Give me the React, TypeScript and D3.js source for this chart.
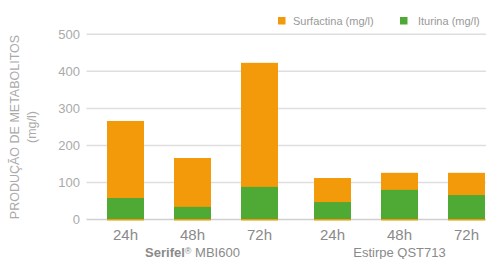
import * as d3 from "d3"

const groups = ["Serifel® MBI600", "Estirpe QST713"]
const times = ["24h", "48h", "72h"]
// values per group, per time
const iturina = [
  [58, 34, 88],
  [47, 80, 66],
]
const surfactina = [
  [208, 132, 335],
  [65, 46, 60],
]
const yTicks = [0, 100, 200, 300, 400, 500]

const W = 486
const H = 259
const ORANGE = "#f39a0b"
const GREEN = "#4ea935"
const FONT = "'Liberation Sans', Arial, sans-serif"

export default function App() {
  const y = d3.scaleLinear().domain([0, 500]).range([219.5, 34.3])
  const xGroup = d3.scaleBand<string>().domain(groups).range([89, 503]).padding(0)
  const xTime = d3
    .scaleBand<string>()
    .domain(times)
    .range([0, xGroup.bandwidth()])
    .paddingInner(0.448)
    .paddingOuter(0.269)

  return (
    <svg
      width={W}
      height={H}
      style={{ position: "absolute", left: 0, top: 0, background: "#fff" }}
      fontFamily={FONT}
    >
      {/* grid */}
      {yTicks.map((t) => (
        <g key={t}>
          <line
            x1={86.5}
            x2={W}
            y1={y(t)}
            y2={y(t)}
            stroke={t === 0 ? "#cfcfcf" : "#dedede"}
            strokeWidth={1.5}
          />
          <text x={80} y={y(t) + 4.5} textAnchor="end" fontSize={13} fill="#aaaaaa">
            {t}
          </text>
        </g>
      ))}

      {/* bars */}
      {groups.map((g, gi) =>
        times.map((t, ti) => {
          const x = (xGroup(g) ?? 0) + (xTime(t) ?? 0)
          const bw = xTime.bandwidth()
          const total = iturina[gi][ti] + surfactina[gi][ti]
          return (
            <g key={g + t}>
              <rect x={x} y={y(total)} width={bw} height={y(0) + 1 - y(total)} fill={ORANGE} />
              <rect
                x={x}
                y={y(iturina[gi][ti])}
                width={bw}
                height={y(0) - 0.5 - y(iturina[gi][ti])}
                fill={GREEN}
              />
              <text
                x={x + bw / 2}
                y={240}
                textAnchor="middle"
                fontSize={15}
                fill="#8a8a8a"
              >
                {t}
              </text>
            </g>
          )
        })
      )}

      {/* group labels */}
      <text
        x={(xGroup(groups[0]) ?? 0) + xGroup.bandwidth() / 2}
        y={257}
        textAnchor="middle"
        fontSize={13}
        fill="#8a8a8a"
      >
        <tspan fontWeight="bold">Serifel</tspan>
        <tspan fontSize={9} dy={-3}>®</tspan>
        <tspan dy={3}> MBI600</tspan>
      </text>
      <text
        x={(xGroup(groups[1]) ?? 0) + xGroup.bandwidth() / 2}
        y={257}
        textAnchor="middle"
        fontSize={13}
        fill="#8a8a8a"
      >
        {groups[1]}
      </text>

      {/* y title */}
      <g transform="translate(19,127) rotate(-90)">
        <text textAnchor="middle" fontSize={12.5} fill="#aaaaaa">
          PRODUÇÃO DE METABOLITOS
        </text>
        <text y={16.5} textAnchor="middle" fontSize={12.5} fill="#aaaaaa">
          (mg/l)
        </text>
      </g>

      {/* legend */}
      <rect x={278} y={17} width={7.5} height={7.5} fill={ORANGE} />
      <text x={293} y={24.5} fontSize={11} fill="#999999">
        Surfactina (mg/l)
      </text>
      <rect x={400} y={17} width={7.5} height={7.5} fill={GREEN} />
      <text x={418} y={24.5} fontSize={11} fill="#999999">
        Iturina (mg/l)
      </text>
    </svg>
  )
}
